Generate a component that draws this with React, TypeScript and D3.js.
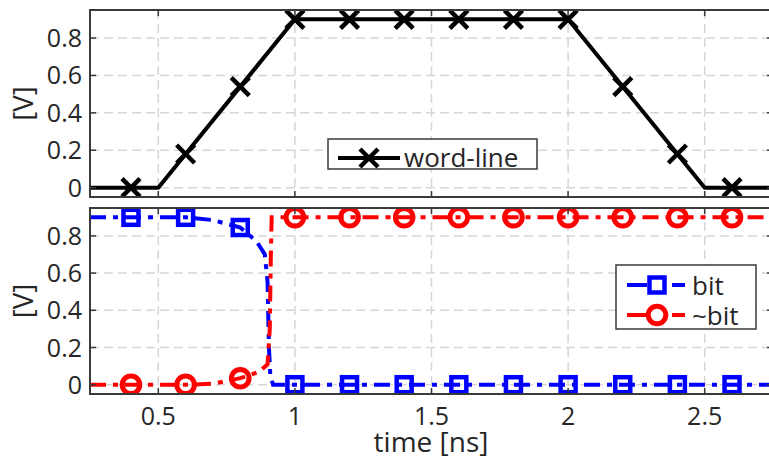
import React from "react";
import * as d3 from "d3";

// ---- data ----
const xTicks = [0.5, 1, 1.5, 2, 2.5];
const xTickLabels = ["0.5", "1", "1.5", "2", "2.5"];
const yTicks = [0, 0.2, 0.4, 0.6, 0.8];
const yTickLabels = ["0", "0.2", "0.4", "0.6", "0.8"];

const wordLineT = [0.25, 0.5, 1.0, 2.0, 2.5, 2.75];
const wordLineV = [0, 0, 0.9, 0.9, 0, 0];

const markerT = [0.4, 0.6, 0.8, 1.0, 1.2, 1.4, 1.6, 1.8, 2.0, 2.2, 2.4, 2.6];
const wordLineMarkV = [0, 0.18, 0.54, 0.9, 0.9, 0.9, 0.9, 0.9, 0.9, 0.54, 0.18, 0];

const bitT = [0.25, 0.6, 0.7, 0.8, 0.86, 0.89, 0.9, 0.905, 0.91, 0.92, 2.75];
const bitV = [0.9, 0.9, 0.885, 0.845, 0.77, 0.7, 0.55, 0.2, 0.05, 0, 0];
const bitMarkV = [0.9, 0.9, 0.845, 0, 0, 0, 0, 0, 0, 0, 0, 0];

const nbitT = [0.25, 0.6, 0.7, 0.8, 0.87, 0.9, 0.908, 0.912, 0.915, 0.93, 2.75];
const nbitV = [0, 0, 0.005, 0.035, 0.07, 0.11, 0.3, 0.7, 0.9, 0.9, 0.9];
const nbitMarkV = [0, 0, 0.035, 0.9, 0.9, 0.9, 0.9, 0.9, 0.9, 0.9, 0.9, 0.9];

// ---- layout ----
const W = 769;
const H = 459;
const left = 90;
const right = 773;
const topPanel = { y0: 10, y1: 197 };
const botPanel = { y0: 208, y1: 394 };
const FONT = "'Open Sans', 'Noto Sans', sans-serif";
const TEXT = "#262626";
const FRAME = "#3a3a3a";
const GRID = "#d6d6d6";
const DASHDOT = "16,7,5,7";
const LW = 4;

const x = d3.scaleLinear().domain([0.25, 2.75]).range([left, right]);

function Panel({ y0, y1, children, showX }: { y0: number; y1: number; children: (y: d3.ScaleLinear<number, number>) => React.ReactNode; showX: boolean }) {
  const y = d3.scaleLinear().domain([-0.05, 0.95]).range([y1, y0]);
  const clipId = `clip${y0}`;
  return (
    <g>
      <defs>
        <clipPath id={clipId}>
          <rect x={left} y={y0} width={right - left} height={y1 - y0} />
        </clipPath>
      </defs>
      <rect x={left} y={y0} width={right - left} height={y1 - y0} fill="#fff" />
      {xTicks.map((t) => (
        <line key={"gx" + t} x1={x(t)} x2={x(t)} y1={y0} y2={y1} stroke={GRID} strokeWidth={1.5} strokeDasharray="9,5" />
      ))}
      {yTicks.map((t) => (
        <line key={"gy" + t} x1={left} x2={right} y1={y(t)} y2={y(t)} stroke={GRID} strokeWidth={1.5} strokeDasharray="9,5" />
      ))}
      <g clipPath={`url(#${clipId})`}>{children(y)}</g>
      {xTicks.map((t) => (
        <g key={"tx" + t}>
          <line x1={x(t)} x2={x(t)} y1={y1} y2={y1 - 6} stroke={FRAME} strokeWidth={1.5} />
          <line x1={x(t)} x2={x(t)} y1={y0} y2={y0 + 6} stroke={FRAME} strokeWidth={1.5} />
        </g>
      ))}
      {yTicks.map((t) => (
        <g key={"ty" + t}>
          <line x1={left} x2={left + 6} y1={y(t)} y2={y(t)} stroke={FRAME} strokeWidth={1.5} />
          <line x1={right} x2={right - 6} y1={y(t)} y2={y(t)} stroke={FRAME} strokeWidth={1.5} />
        </g>
      ))}
      <rect x={left} y={y0} width={right - left} height={y1 - y0} fill="none" stroke={FRAME} strokeWidth={2} />
      {yTicks.map((t, i) => (
        <text key={"yl" + t} x={82} y={y(t)} dy="0.36em" textAnchor="end" fontSize={25} fontFamily={FONT} fill={TEXT}>
          {yTickLabels[i]}
        </text>
      ))}
      {showX &&
        xTicks.map((t, i) => (
          <text key={"xl" + t} x={x(t)} y={425} textAnchor="middle" fontSize={25} fontFamily={FONT} fill={TEXT}>
            {xTickLabels[i]}
          </text>
        ))}
      <text transform={`translate(33,${(y0 + y1) / 2}) rotate(-90)`} textAnchor="middle" fontSize={27.5} fontFamily={FONT} fill={TEXT}>
        [V]
      </text>
    </g>
  );
}

function xMark(cx: number, cy: number, r: number) {
  return `M${cx - r},${cy - r}L${cx + r},${cy + r}M${cx - r},${cy + r}L${cx + r},${cy - r}`;
}

export default function App() {
  const mkLine = (ts: number[], vs: number[], y: d3.ScaleLinear<number, number>) =>
    d3
      .line<number>()
      .x((_, i) => x(ts[i]))
      .y((v) => y(v))(vs) || "";

  return (
    <svg width={W} height={H} style={{ position: "absolute", left: 0, top: 0 }}>
      <rect width={W} height={H} fill="#fff" />
      <Panel y0={topPanel.y0} y1={topPanel.y1} showX={false}>
        {(y) => (
          <g>
            <path d={mkLine(wordLineT, wordLineV, y)} fill="none" stroke="#000" strokeWidth={LW} strokeLinejoin="round" />
            {markerT.map((t, i) => (
              <path key={t} d={xMark(x(t), y(wordLineMarkV[i]), 9)} stroke="#000" strokeWidth={4.5} />
            ))}
          </g>
        )}
      </Panel>
      <Panel y0={botPanel.y0} y1={botPanel.y1} showX={true}>
        {(y) => (
          <g>
            <path d={mkLine(bitT, bitV, y)} fill="none" stroke="#0000ff" strokeWidth={LW} strokeDasharray={DASHDOT} />
            {markerT.map((t, i) => (
              <rect key={"b" + t} x={x(t) - 7.5} y={y(bitMarkV[i]) - 7.5} width={15} height={15} fill="none" stroke="#0000ff" strokeWidth={4.5} />
            ))}
            <path d={mkLine(nbitT, nbitV, y)} fill="none" stroke="#ff0000" strokeWidth={LW} strokeDasharray={DASHDOT} />
            {markerT.map((t, i) => (
              <circle key={"r" + t} cx={x(t)} cy={y(nbitMarkV[i])} r={8.8} fill="none" stroke="#ff0000" strokeWidth={5} />
            ))}
          </g>
        )}
      </Panel>
      <text x={431} y={452} textAnchor="middle" fontSize={28} fontFamily={FONT} fill={TEXT}>
        time [ns]
      </text>
      {/* top legend */}
      <g>
        <rect x={328} y={139} width={209} height={30} fill="#fff" stroke={FRAME} strokeWidth={1.5} />
        <line x1={338} x2={400} y1={158} y2={158} stroke="#000" strokeWidth={LW} />
        <path d={xMark(369, 158, 9)} stroke="#000" strokeWidth={4.5} />
        <text x={404} y={167} fontSize={26} fontFamily={FONT} fill={TEXT}>
          word-line
        </text>
      </g>
      {/* bottom legend */}
      <g>
        <rect x={616} y={265} width={140} height={64} fill="#fff" stroke={FRAME} strokeWidth={1.5} />
        <line x1={627} x2={685} y1={285} y2={285} stroke="#0000ff" strokeWidth={LW} strokeDasharray="20,25,13,100" />
        <rect x={657 - 7.5} y={285 - 7.5} width={15} height={15} fill="none" stroke="#0000ff" strokeWidth={4.5} />
        <text x={692} y={295} fontSize={26} fontFamily={FONT} fill={TEXT}>
          bit
        </text>
        <line x1={627} x2={685} y1={315} y2={315} stroke="#ff0000" strokeWidth={LW} strokeDasharray="20,25,13,100" />
        <circle cx={657} cy={315} r={8.8} fill="none" stroke="#ff0000" strokeWidth={5} />
        <text x={692} y={325} fontSize={26} fontFamily={FONT} fill={TEXT}>
          ~bit
        </text>
      </g>
    </svg>
  );
}
